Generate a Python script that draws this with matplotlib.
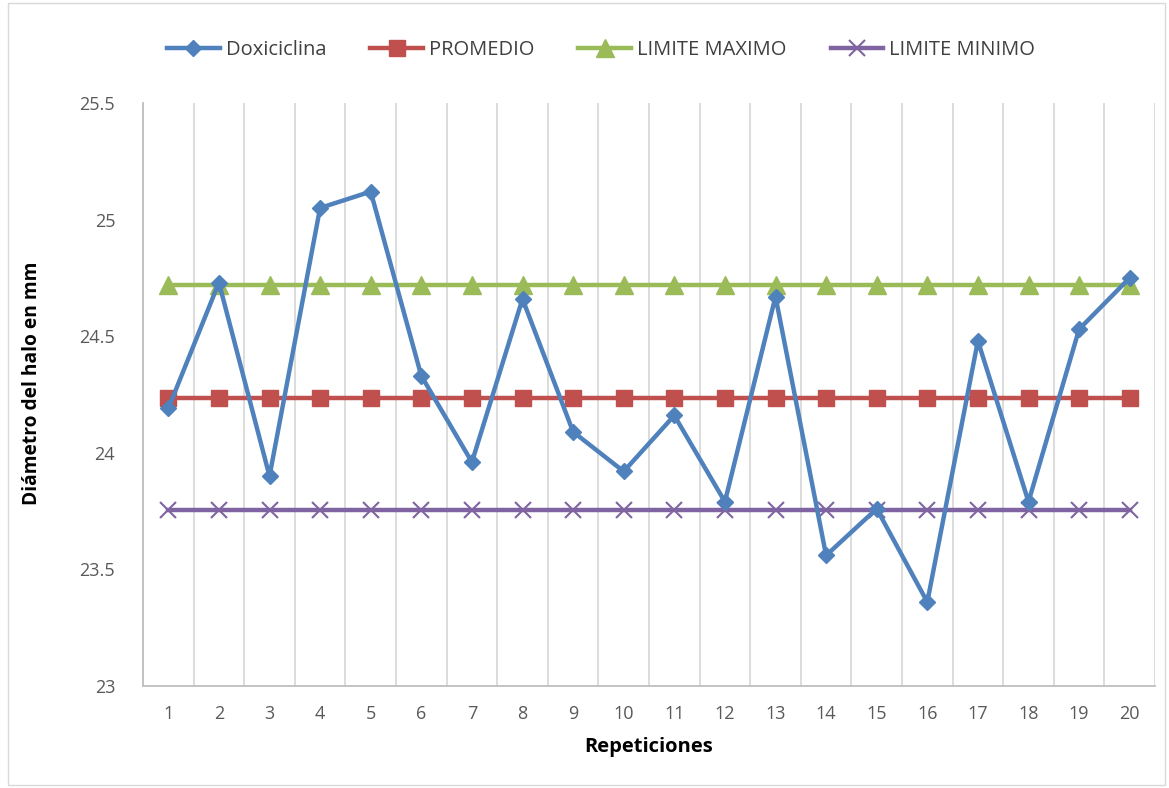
import numpy as np
import matplotlib.pyplot as plt
from matplotlib.patches import Rectangle

# valores
repeticiones = list(range(1, 21))
doxiciclina = [24.19, 24.73, 23.90, 25.05, 25.12, 24.33, 23.96, 24.66, 24.09, 23.92,
               24.16, 23.79, 24.67, 23.56, 23.76, 23.36, 24.48, 23.79, 24.53, 24.75]
promedio = [24.235] * 20
limite_max = [24.72] * 20
limite_min = [23.755] * 20

plt.rcParams['font.family'] = ['Open Sans', 'DejaVu Sans']

fig = plt.figure(figsize=(11.69, 7.88), dpi=100)
ax = fig.add_axes([143 / 1169, 1 - 686 / 788, (1155 - 143) / 1169, (686 - 103) / 788])

ax.plot(repeticiones, doxiciclina, color='#4F81BD', lw=3.2, marker='D', ms=8.5,
        label='Doxiciclina', zorder=5)
ax.plot(repeticiones, promedio, color='#C0504D', lw=3.2, marker='s', ms=12,
        label='PROMEDIO', zorder=4)
ax.plot(repeticiones, limite_max, color='#9BBB59', lw=3.2, marker='^', ms=13,
        label='LIMITE MAXIMO', zorder=4)
ax.plot(repeticiones, limite_min, color='#8064A2', lw=3.2, marker='x', ms=11, mew=1.5,
        label='LIMITE MINIMO', zorder=4)

ax.set_xlim(0.5, 20.5)
ax.set_ylim(23, 25.5)
ax.set_yticks([23, 23.5, 24, 24.5, 25, 25.5])
ax.set_yticklabels(['23', '23.5', '24', '24.5', '25', '25.5'])
ax.set_xticks(repeticiones)

# lineas verticales entre categorias
for xb in np.arange(0.5, 21, 1):
    ax.axvline(xb, color='#d9d9d9', lw=1.3, zorder=1)

for s in ['top', 'right']:
    ax.spines[s].set_visible(False)
for s in ['left', 'bottom']:
    ax.spines[s].set_color('#bfbfbf')
    ax.spines[s].set_linewidth(1.3)

ax.tick_params(axis='both', length=0, labelsize=13, colors='#595959')
ax.tick_params(axis='x', pad=14)
ax.tick_params(axis='y', pad=20)

ax.set_xlabel('Repeticiones', fontsize=14.5, fontweight='bold', labelpad=10)
ax.set_ylabel('Diámetro del halo en mm', fontsize=13.8, fontweight='bold')
ax.yaxis.set_label_coords(-0.1, 0.52)

ax.legend(loc='center', bbox_to_anchor=(0.4526, 1 + (103 - 50) / 583), ncol=4, frameon=False,
          fontsize=14.5, handlelength=2.6, handletextpad=0.3, columnspacing=2.2,
          labelcolor='#404040')

fig.patches.append(Rectangle((8 / 1169, 3 / 788), 1 - 12 / 1169, 1 - 6 / 788,
                             transform=fig.transFigure, fill=False, edgecolor='#d9d9d9', lw=1))

fig.savefig('out.png', dpi=100)
